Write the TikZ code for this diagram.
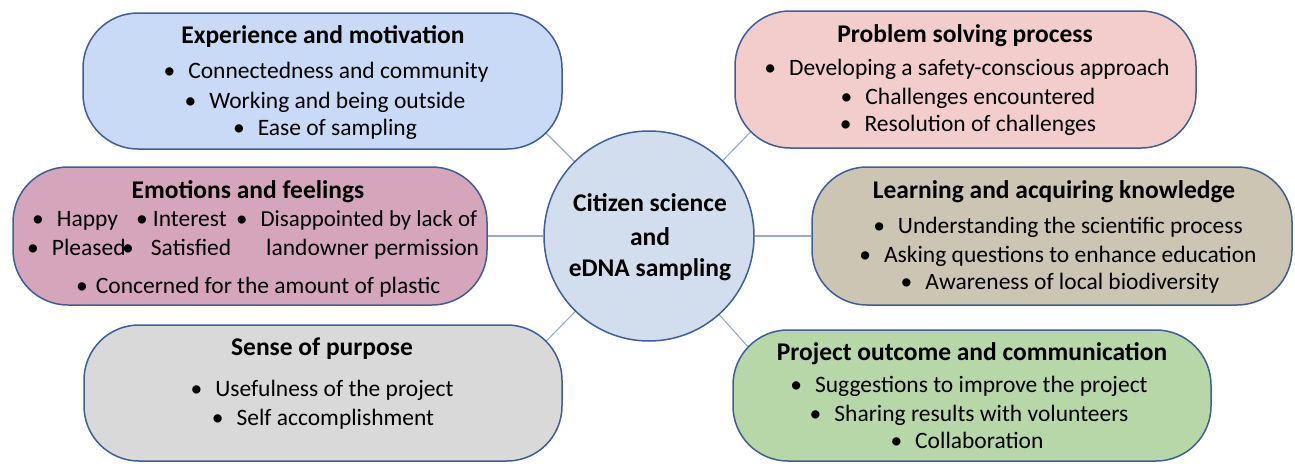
\documentclass[tikz,border=0pt]{standalone}
\usepackage{fontspec}
\setmainfont{Carlito}
\usetikzlibrary{backgrounds}
\definecolor{bord}{HTML}{3F5E96}
\definecolor{conn}{HTML}{93AAD6}
\definecolor{fA}{HTML}{C9DAF6}
\definecolor{fB}{HTML}{F3CCCC}
\definecolor{fC}{HTML}{D5A5BC}
\definecolor{fD}{HTML}{CDC5B3}
\definecolor{fE}{HTML}{D9D9D9}
\definecolor{fF}{HTML}{B7D7A8}
\definecolor{fG}{HTML}{D2DEEE}
\newcommand\bu{\textbullet\hspace{13pt}}
\tikzset{
 catbox/.style={draw=bord, line width=1.5pt, rounded corners=55pt, inner sep=0pt},
 hub/.style={circle, draw=bord, line width=1.5pt, fill=fG, minimum size=210pt, inner sep=0pt},
 ttl/.style={font=\fontsize{25.5}{28}\selectfont\bfseries, anchor=base, inner sep=0pt},
 hubtxt/.style={font=\fontsize{25.5}{28}\selectfont\bfseries, anchor=base, inner sep=0pt},
 itm/.style={font=\fontsize{23.5}{28}\selectfont, anchor=base, inner sep=0pt},
 itmw/.style={font=\fontsize{23.5}{28}\selectfont, anchor=base west, inner sep=0pt},
 link/.style={draw=conn, line width=1.1pt},
 longlink/.style={link, shorten >=-40pt},
}
\begin{document}
\begin{tikzpicture}[x=1pt,y=-1pt]
\useasboundingbox (0,0) rectangle (1295,463);
% boxes
\node[catbox, fill=fA, minimum width=479pt, minimum height=136pt] (b1) at (322.5,81) {};
\node[catbox, fill=fB, minimum width=461pt, minimum height=137pt] (b2) at (965.5,79.5) {};
\node[catbox, fill=fC, minimum width=474pt, minimum height=138pt] (b3) at (250,236) {};
\node[catbox, fill=fD, minimum width=480pt, minimum height=138pt] (b4) at (1052,236) {};
\node[catbox, fill=fE, minimum width=478pt, minimum height=136pt] (b5) at (323,393) {};
\node[catbox, fill=fF, minimum width=478pt, minimum height=131pt] (b6) at (972,395.5) {};
\node[hub] (c) at (649,236) {};
% connectors
\begin{scope}[on background layer]
\draw[longlink] (c.center) -- (b1.south east);
\draw[longlink] (c.center) -- (b2.south west);
\draw[longlink] (c.center) -- (b5.north east);
\draw[longlink] (c.center) -- (b6.north west);
\draw[link] (b3.east) -- (c.west);
\draw[link] (b4.west) -- (c.east);
\end{scope}
% hub text
\node[hubtxt] (c1) at (650,211) {Citizen science};
\node[hubtxt] (c2) at (650,245) {and};
\node[hubtxt] (c3) at (650,276) {eDNA sampling};
% box 1
\node[ttl] (t1) at (323,43) {Experience and motivation};
\node[itm] (i11) at (326,78) {\bu Connectedness and community};
\node[itm] (i12) at (325,108) {\bu Working and being outside};
\node[itm] (i13) at (325,135) {\bu Ease of sampling};
% box 2
\node[ttl] (t2) at (965,42) {Problem solving process};
\node[itm] (i21) at (967,75) {\bu Developing a safety-conscious approach};
\node[itm] (i22) at (968,104) {\bu Challenges encountered};
\node[itm] (i23) at (968,131) {\bu Resolution of challenges};
% box 3
\node[ttl] (t3) at (248,198) {Emotions and feelings};
\node[itmw] (i31) at (32,226) {\bu Happy};
\node[itmw] (i32) at (136,226) {•\hspace{5pt}Interest};
\node[itmw, font=\fontsize{22.9}{28}\selectfont] (i33) at (236,226) {\bu Disappointed by lack of};
\node[itmw] (i34) at (27,255) {\bu Pleased};
\node[itmw] (i35) at (122,255) {•\hspace{17pt}Satisfied};
\node[itmw] (i36) at (266,255) {landowner permission};
\node[itmw] (i37) at (76,293) {•\hspace{8pt}Concerned for the amount of plastic};
% box 4
\node[ttl] (t4) at (1054,198) {Learning and acquiring knowledge};
\node[itm] (i41) at (1058,233) {\bu Understanding the scientific process};
\node[itm] (i42) at (1058,262) {\bu Asking questions to enhance education};
\node[itm] (i43) at (1060,289) {\bu Awareness of local biodiversity};
% box 5
\node[ttl] (t5) at (322,355) {Sense of purpose};
\node[itm] (i51) at (322,396) {\bu Usefulness of the project};
\node[itm] (i52) at (323,425) {\bu Self accomplishment};
% box 6
\node[ttl] (t6) at (972,360) {Project outcome and communication};
\node[itm] (i61) at (969,392) {\bu Suggestions to improve the project};
\node[itm] (i62) at (969,421) {\bu Sharing results with volunteers};
\node[itm] (i63) at (967,448) {\bu Collaboration};
\end{tikzpicture}
\end{document}
